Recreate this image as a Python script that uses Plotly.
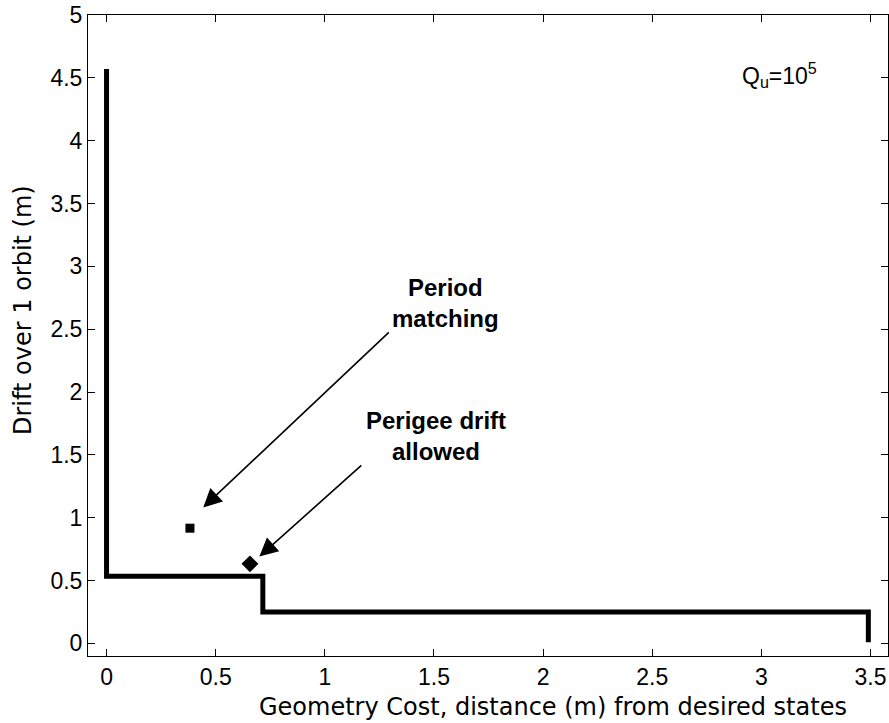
import plotly.graph_objects as go

# Pareto-type staircase (Geometry cost vs drift)
stair_x = [0.0, 0.0, 0.716, 0.716, 3.49, 3.49]
stair_y = [4.57, 0.535, 0.535, 0.25, 0.25, 0.01]

# Special points
period_x = [0.382]
period_y = [0.917]
perigee_x = [0.657]
perigee_y = [0.633]

x_ticks = [0, 0.5, 1, 1.5, 2, 2.5, 3, 3.5]
x_labels = ["0", "0.5", "1", "1.5", "2", "2.5", "3", "3.5"]
y_ticks = [0, 0.5, 1, 1.5, 2, 2.5, 3, 3.5, 4, 4.5, 5]
y_labels = ["0", "0.5", "1", "1.5", "2", "2.5", "3", "3.5", "4", "4.5", "5"]

x_title = "Geometry Cost, distance (m) from desired states"
y_title = "Drift over 1 orbit (m)"

FONT = "Liberation Sans, Arial, Helvetica, sans-serif"
WIDE = "DejaVu Sans, Liberation Sans, sans-serif"

fig = go.Figure()
fig.add_trace(go.Scatter(x=stair_x, y=stair_y, mode="lines",
                         line=dict(color="black", width=5), showlegend=False))
fig.add_trace(go.Scatter(x=period_x, y=period_y, mode="markers",
                         marker=dict(symbol="square", size=9, color="black"), showlegend=False))
fig.add_trace(go.Scatter(x=perigee_x, y=perigee_y, mode="markers",
                         marker=dict(symbol="diamond", size=13, color="black"), showlegend=False))

# arrows
fig.add_annotation(x=0.443, y=1.082, ax=1.30, ay=2.486, xref="x", yref="y", axref="x", ayref="y",
                   text="", showarrow=True, arrowhead=2, arrowsize=2.3, arrowwidth=1.6, arrowcolor="black")
fig.add_annotation(x=0.70, y=0.691, ax=1.174, ay=1.427, xref="x", yref="y", axref="x", ayref="y",
                   text="", showarrow=True, arrowhead=2, arrowsize=2.3, arrowwidth=1.6, arrowcolor="black")

# labels
fig.add_annotation(x=(445 - 106.7) / 218, y=(641.7 - 302) / 125.4, xref="x", yref="y",
                   text="<b>Period<br>matching</b>", showarrow=False,
                   font=dict(family=FONT, size=24, color="black"), align="center")
fig.add_annotation(x=(436 - 106.7) / 218, y=(641.7 - 435) / 125.4, xref="x", yref="y",
                   text="<b>Perigee drift<br>allowed</b>", showarrow=False,
                   font=dict(family=FONT, size=24, color="black"), align="center")
fig.add_annotation(x=(779 - 106.7) / 218, y=4.52, xref="x", yref="y",
                   text="Q<sub>u</sub>=10<sup>5</sup>", showarrow=False,
                   font=dict(family=FONT, size=23, color="black"))

# axis titles (placed as in the reference)
fig.add_annotation(x=(553 - 88) / 800, y=(656 - 707) / 641, xref="paper", yref="paper",
                   text=x_title, showarrow=False, xanchor="center", yanchor="middle",
                   font=dict(family=WIDE, size=24, color="black"))
fig.add_annotation(x=(23 - 88) / 800, y=(656 - 310) / 641, xref="paper", yref="paper",
                   text=y_title, showarrow=False, xanchor="center", yanchor="middle", textangle=-90,
                   font=dict(family=WIDE, size=24, color="black"))

fig.update_xaxes(range=[-0.085, 3.58], tickvals=x_ticks, ticktext=x_labels,
                 showgrid=False, zeroline=False, showline=True, linecolor="black", linewidth=1,
                 mirror="ticks", ticks="inside", ticklen=7, tickcolor="black",
                 tickfont=dict(family=FONT, size=23, color="black"))
fig.update_yaxes(range=[-0.1, 5.0], tickvals=y_ticks, ticktext=y_labels,
                 showgrid=False, zeroline=False, showline=True, linecolor="black", linewidth=1,
                 mirror="ticks", ticks="inside", ticklen=7, tickcolor="black",
                 tickfont=dict(family=FONT, size=23, color="black"))

fig.update_layout(width=889, height=723, margin=dict(l=88, r=1, t=15, b=67),
                  paper_bgcolor="white", plot_bgcolor="white")

fig.write_html("out.html")
